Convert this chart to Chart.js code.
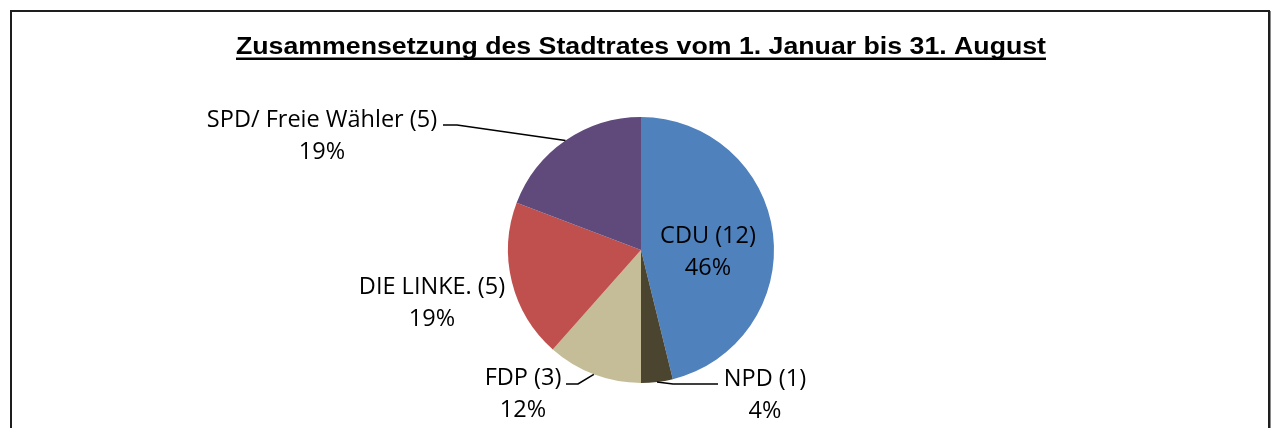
<!DOCTYPE html>
<html lang="de">
<head>
<meta charset="utf-8">
<title>Zusammensetzung des Stadtrates</title>
<script src="https://cdn.jsdelivr.net/npm/chart.js@4.4.1/dist/chart.umd.min.js"></script>
<style>
  html, body { margin: 0; padding: 0; background: #fff; }
  .page { position: relative; width: 1273px; height: 428px; overflow: hidden; }
  .frame {
    position: absolute; left: 10px; top: 10px; width: 1260px; height: 460px;
    box-sizing: border-box; border: 2px solid #1e1e1e; box-shadow: 1px 1px 0 #8a8a8a;
  }
  #pie { position: absolute; left: 0; top: 0; }
</style>
</head>
<body>
<div class="page">
  <div class="frame"></div>
  <canvas id="pie" width="1273" height="428"></canvas>
</div>
<script>
// Sitze im Stadtrat, im Uhrzeigersinn ab 12 Uhr
const TITLE = 'Zusammensetzung des Stadtrates vom 1. Januar bis 31. August';
const parties = ['CDU', 'NPD', 'FDP', 'DIE LINKE.', 'SPD/ Freie Wähler'];
const seats = [12, 1, 3, 5, 5];
const sliceColors = ['#4F81BD', '#4B4530', '#C4BD97', '#C0504D', '#604A7B'];

// label spots relative to the pie centre (baseline of first line), optional leader
const labelSpots = [
  { dx: 67,   dy: -7 },
  { dx: 124,  dy: 136, elbow: [32, 134],   end: [77, 134] },
  { dx: -118, dy: 135, elbow: [-63, 134],  end: [-75, 134] },
  { dx: -209, dy: 44 },
  { dx: -319, dy: -123, elbow: [-184, -125], end: [-198, -125] }
];

const LABEL_FONT = '23.5px "Open Sans", "Noto Sans", sans-serif';
const LINE_GAP = 32;

const pieLabels = {
  id: 'pieLabels',
  afterDraw(chart) {
    const ctx = chart.ctx;
    const arcs = chart.getDatasetMeta(0).data;
    const total = seats.reduce((a, b) => a + b, 0);

    // title, squeezed to the width of the original
    ctx.save();
    ctx.font = 'bold 23px "Liberation Sans", Arial, sans-serif';
    const tw = ctx.measureText(TITLE).width;
    ctx.translate(641, 0);
    ctx.scale(810 / tw, 1);
    ctx.fillStyle = '#000';
    ctx.textAlign = 'center';
    ctx.textBaseline = 'alphabetic';
    ctx.fillText(TITLE, 0, 53.5);
    ctx.restore();
    ctx.fillStyle = '#000';
    ctx.fillRect(641 - 405, 57.5, 810, 2.5);

    ctx.save();
    ctx.font = LABEL_FONT;
    ctx.textAlign = 'center';
    ctx.textBaseline = 'alphabetic';
    arcs.forEach((arc, i) => {
      const spot = labelSpots[i];
      const cx = arc.x, cy = arc.y;
      if (spot.elbow) {
        const mid = (arc.startAngle + arc.endAngle) / 2;
        const px = cx + Math.cos(mid) * arc.outerRadius;
        const py = cy + Math.sin(mid) * arc.outerRadius;
        ctx.beginPath();
        ctx.moveTo(px, py);
        ctx.lineTo(cx + spot.elbow[0], cy + spot.elbow[1]);
        ctx.lineTo(cx + spot.end[0], cy + spot.end[1]);
        ctx.strokeStyle = '#000';
        ctx.lineWidth = 1.6;
        ctx.stroke();
      }
      const pct = Math.round(seats[i] / total * 100) + '%';
      ctx.fillStyle = '#000';
      ctx.fillText(`${parties[i]} (${seats[i]})`, cx + spot.dx, cy + spot.dy);
      ctx.fillText(pct, cx + spot.dx, cy + spot.dy + LINE_GAP);
    });
    ctx.restore();
  }
};

new Chart(document.getElementById('pie'), {
  type: 'pie',
  data: {
    labels: parties,
    datasets: [{
      data: seats,
      backgroundColor: sliceColors,
      borderWidth: 0,
      hoverOffset: 0
    }]
  },
  options: {
    responsive: false,
    animation: false,
    layout: { padding: { top: 117, bottom: 45, left: 9, right: 0 } },
    plugins: {
      legend: { display: false },
      tooltip: { enabled: false },
      title: { display: false }
    }
  },
  plugins: [pieLabels]
});
</script>
</body>
</html>
